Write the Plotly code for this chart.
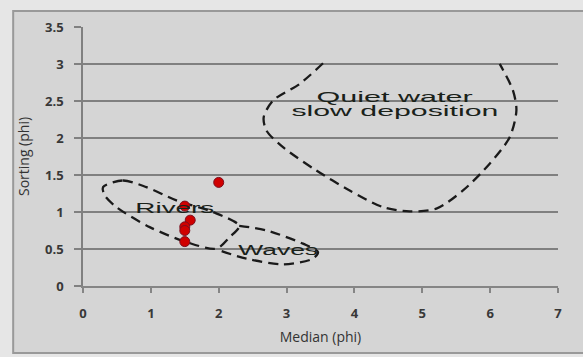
import plotly.graph_objects as go

# Sample points (Median phi, Sorting phi)
median_phi = [2.0, 1.5, 1.58, 1.5, 1.5, 1.5]
sorting_phi = [1.4, 1.08, 0.89, 0.80, 0.75, 0.60]

# Field boundaries (digitised outlines)
rivers_x = [0.295, 0.589, 0.934, 1.376, 1.916, 2.302, 2.162, 1.966, 1.524, 0.983, 0.492, 0.320, 0.295]
rivers_y = [1.336, 1.426, 1.336, 1.157, 0.999, 0.812, 0.661, 0.505, 0.594, 0.796, 1.066, 1.224, 1.336]

waves_x = [2.302, 2.703, 3.242, 3.463, 3.389, 2.947, 2.408, 2.014, 1.966]
waves_y = [0.812, 0.752, 0.572, 0.459, 0.370, 0.293, 0.370, 0.482, 0.505]

quiet_x = [3.537, 3.193, 2.800, 2.663, 2.703, 2.947, 3.439, 3.930, 4.421, 4.814,
           5.208, 5.600, 5.993, 6.288, 6.387, 6.337, 6.141]
quiet_y = [3.010, 2.731, 2.506, 2.281, 2.101, 1.876, 1.561, 1.291, 1.066, 1.008,
           1.045, 1.291, 1.652, 2.011, 2.371, 2.641, 3.001]

labels = ["Rivers", "Waves", "Quiet water", "slow deposition"]
label_x = [1.354, 2.87, 4.593, 4.593]
label_y = [1.06, 0.482, 2.551, 2.37]

x_ticks = [0, 1, 2, 3, 4, 5, 6, 7]
y_ticks = [0, 0.5, 1, 1.5, 2, 2.5, 3, 3.5]

dash_line = dict(color="#1a1a1a", width=2.3, dash="10px,6px", shape="spline", smoothing=0.8)

fig = go.Figure()
for xs, ys in [(rivers_x, rivers_y), (waves_x, waves_y), (quiet_x, quiet_y)]:
    fig.add_trace(go.Scatter(x=xs, y=ys, mode="lines", line=dash_line,
                             hoverinfo="skip", showlegend=False))

fig.add_trace(go.Scatter(x=median_phi, y=sorting_phi, mode="markers",
                         marker=dict(color="#d00000", size=10,
                                     line=dict(color="#7a1020", width=1)),
                         showlegend=False))

for t, xv, yv in zip(labels, label_x, label_y):
    fig.add_annotation(x=xv, y=yv, text=t, showarrow=False,
                       font=dict(family="Liberation Sans", size=14, color="#1a221a"))

# frame
fig.add_shape(type="rect", xref="paper", yref="paper", x0=-0.147, x1=1.08,
              y0=-0.259, y1=1.062, layer="below",
              fillcolor="#d5d5d5", line=dict(color="#999999", width=2))

tickfont = dict(family="Open Sans", size=13, color="#383838", weight="bold")
fig.update_layout(
    width=583, height=357,
    margin=dict(l=83, r=25, t=27, b=71),
    paper_bgcolor="#e6e6e6",
    plot_bgcolor="rgba(0,0,0,0)",
    xaxis=dict(range=[0, 7], tickvals=x_ticks, showgrid=False, zeroline=False,
               automargin=False,
               showline=True, linecolor="#858585", linewidth=2,
               ticks="outside", ticklen=5, tickcolor="#858585", tickwidth=1.5,
               tickfont=tickfont, ticklabelstandoff=9,
               title=dict(text="Median (phi)", standoff=12,
                          font=dict(family="Open Sans", size=14, color="#333333"))),
    yaxis=dict(range=[0, 3.5], tickvals=y_ticks, tickformat="~g",
               automargin=False,
               showgrid=True, gridcolor="#808080", gridwidth=2, zeroline=False,
               showline=True, linecolor="#808080", linewidth=1.5,
               ticks="outside", ticklen=7, tickcolor="#808080", tickwidth=2,
               tickfont=tickfont, ticklabelstandoff=8,
               title=dict(text="Sorting (phi)", standoff=12,
                          font=dict(family="Open Sans", size=14, color="#333333"))),
)

post = """
document.body.style.margin = '0';
document.body.style.padding = '0';
var targets = {"Rivers":79, "Waves":80, "Quiet water":157, "slow deposition":207};
document.querySelectorAll('.annotation-text').forEach(function(t){
  var key = t.textContent.replace(/\\s+/g, ' ').trim();
  var w = targets[key]; if (!w) return;
  var bb = t.getBBox(); if (!bb.width) return;
  var s = w / bb.width; var cx = bb.x + bb.width / 2;
  t.setAttribute('transform', 'translate(' + cx + ' 0) scale(' + s + ' 1) translate(' + (-cx) + ' 0)');
});
"""
fig.write_html("out.html", post_script=post, config={"displayModeBar": False})
